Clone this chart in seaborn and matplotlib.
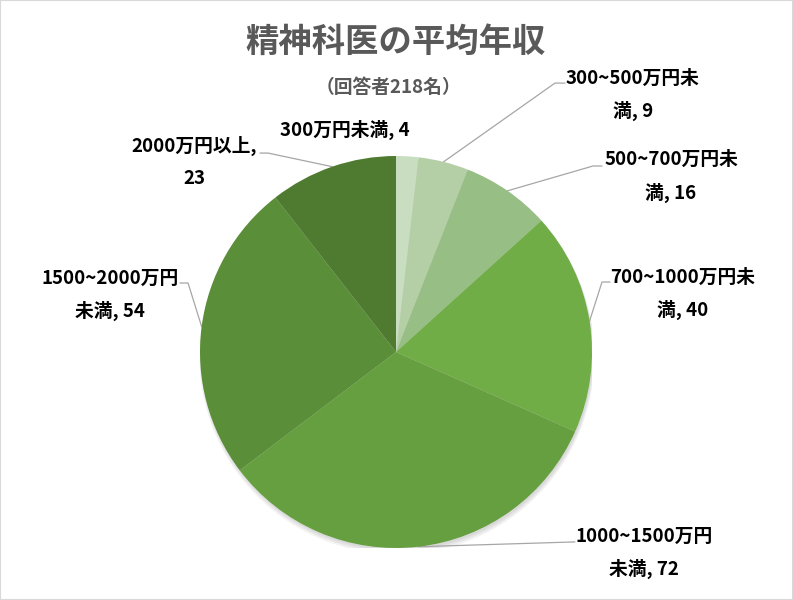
import matplotlib
matplotlib.use('Agg')
import matplotlib.pyplot as plt
import seaborn as sns
from matplotlib.patches import Circle, Rectangle
import numpy as np

sns.set_theme(style='white')
plt.rcParams['font.family'] = ['Noto Sans CJK JP', 'DejaVu Sans']

# データ（回答者218名）
categories = ['300万円未満', '300~500万円未満', '500~700万円未満', '700~1000万円未満',
              '1000~1500万円未満', '1500~2000万円未満', '2000万円以上']
counts = [4, 9, 16, 40, 72, 54, 23]
label_texts = ['300万円未満, 4', '300~500万円未\n満, 9', '500~700万円未\n満, 16',
               '700~1000万円未\n満, 40', '1000~1500万円\n未満, 72', '1500~2000万円\n未満, 54',
               '2000万円以上,\n23']
colors = ['#C9DDC1', '#B4CFA5', '#97BE84', '#70AD47', '#669F3F', '#5A8E38', '#4E7B30']

# ラベル位置（パイ半径=1の座標）と引き出し線の折れ点
label_pos = [(-0.260, 1.133), (1.209, 1.311), (1.403, 0.895), (1.464, 0.296),
             (1.265, -1.026), (-1.459, 0.291), (-1.031, 0.969)]
elbows = [None, ((0.811, 1.372), 0.862), ((1.005, 0.949), 1.051), ((1.051, 0.357), 1.092),
          ((0.913, -0.969), 0.913), ((-1.061, 0.352), -1.102), ((-0.653, 1.015), -0.694)]

fig = plt.figure(figsize=(7.93, 6.0), dpi=100)
fig.patch.set_facecolor('white')
fig.patches.append(Rectangle((0, 0), 1, 1, transform=fig.transFigure, fill=False,
                             edgecolor='#D9D9D9', linewidth=1.5))

cx, cy, r = 396, 352, 196
ax = fig.add_axes([(cx - r) / 793, (600 - cy - r) / 600, 2 * r / 793, 2 * r / 600])

# 影
for i, a in enumerate([0.05, 0.05, 0.05]):
    ax.add_patch(Circle((0.005, -0.012 - 0.006 * i), 1.0 + 0.004 * i, color='black',
                        alpha=a, zorder=0, linewidth=0))

wedges, _ = ax.pie(counts, colors=colors, startangle=90, counterclock=False,
                   wedgeprops=dict(linewidth=0), radius=1.0)
for w in wedges:
    w.set_zorder(2)

ax.set_xlim(-1, 1)
ax.set_ylim(-1, 1)
ax.set_aspect('auto')
ax.axis('off')

for w, txt, pos, el in zip(wedges, label_texts, label_pos, elbows):
    ax.text(pos[0], pos[1], txt, ha='center', va='center', multialignment='center',
            fontsize=13.5, fontweight='bold', color='black', linespacing=1.85, clip_on=False)
    if el is None:
        continue
    mid = np.deg2rad((w.theta1 + w.theta2) / 2)
    ex, ey = np.cos(mid), np.sin(mid)
    (bx, by), tx = el
    ax.plot([ex, bx, tx], [ey, by, by], color='#A6A6A6', linewidth=0.9, clip_on=False,
            zorder=1)

fig.text(396 / 793, 1 - 42 / 600, '精神科医の平均年収', ha='center', va='center',
         fontsize=24, color='#595959', fontweight='bold')
fig.text(388 / 793, 1 - 87 / 600, '（回答者218名）', ha='center', va='center',
         fontsize=13.5, color='#595959', fontweight='bold')

fig.savefig('out.png', dpi=100, facecolor='white')
